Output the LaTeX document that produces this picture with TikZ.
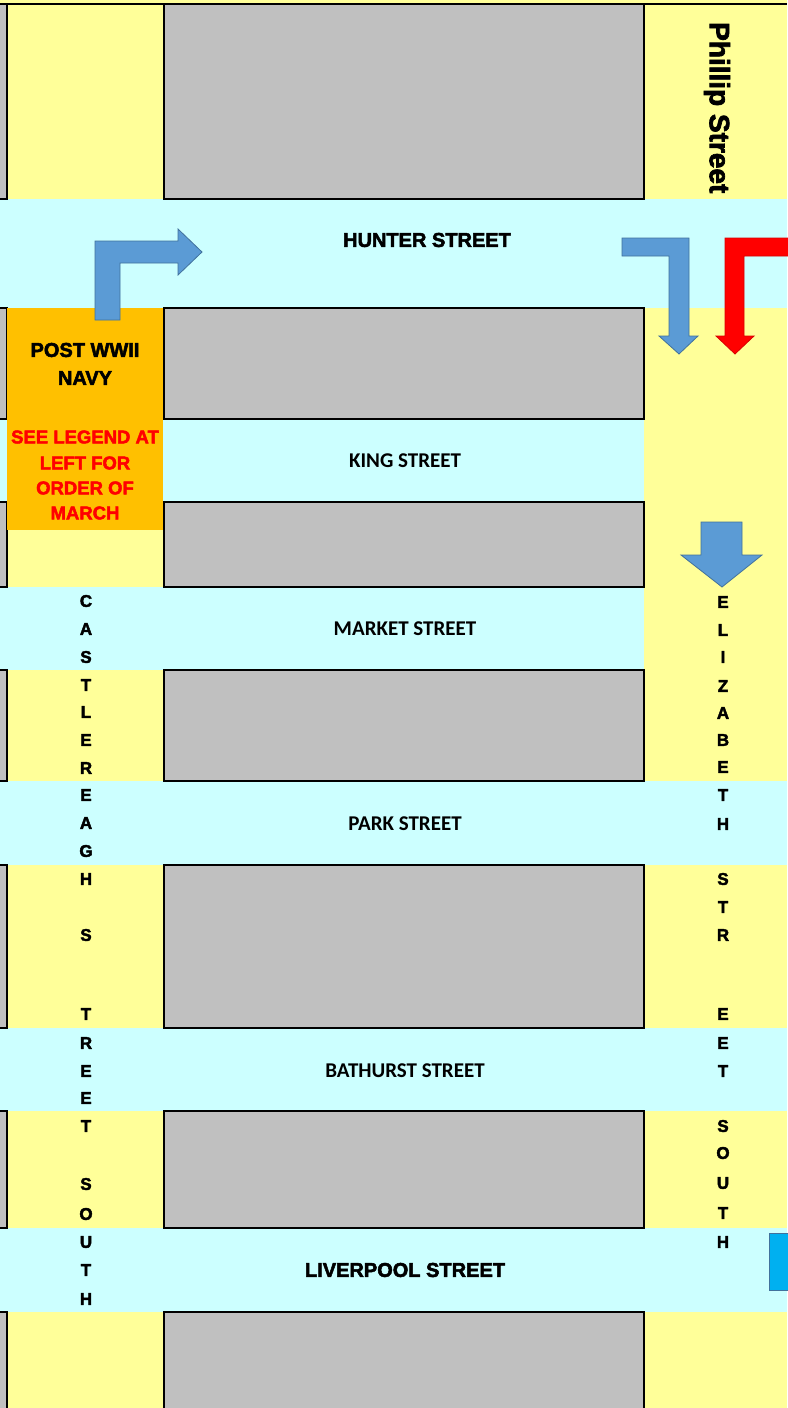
\documentclass[tikz,border=0pt]{standalone}
\usepackage{fontspec}
\setmainfont{Liberation Sans}
\newfontfamily\heavyfont{Liberation Sans Bold}[FakeBold=2.5]
\newfontfamily\calfont{Carlito}
\definecolor{roadcyan}{HTML}{CCFFFF}
\definecolor{lane}{HTML}{FFFF99}
\definecolor{blockgray}{HTML}{C0C0C0}
\definecolor{navyorange}{HTML}{FFC000}
\definecolor{arrowblue}{HTML}{5B9BD5}
\definecolor{arrowedge}{HTML}{41719C}
\definecolor{markerblue}{HTML}{00B0F0}
\begin{document}
\begin{tikzpicture}[x=1pt,y=-1pt,
  block/.style={fill=blockgray,draw=black,line width=2pt},
  road/.style={fill=roadcyan},
  bigname/.style={font=\heavyfont\fontsize{20}{24}\selectfont,inner sep=0},
  smallname/.style={font=\calfont\bfseries\fontsize{21}{25}\selectfont,inner sep=0},
  legend/.style={font=\heavyfont\fontsize{18.5}{22}\selectfont,text=red,inner sep=0},
  letter/.style={font=\heavyfont\fontsize{17}{20}\selectfont,inner sep=0},
  turn/.style={fill=arrowblue,draw=arrowedge,line width=0.8pt}]
\useasboundingbox (0,0) rectangle (787,1408);
\fill[lane] (0,0) rectangle (787,1408);
\fill[road] (0,199) rectangle (787,308);
\fill[road] (0,419) rectangle (644,502);
\fill[road] (0,587) rectangle (644,670);
\fill[road] (0,781) rectangle (787,865);
\fill[road] (0,1028) rectangle (787,1111);
\fill[road] (0,1228) rectangle (787,1312);
\foreach \ya/\yb in {4/199,308/419,502/587,670/781,865/1028,1111/1228,1312/1420}{
  \filldraw[block] (-5,\ya) rectangle (7,\yb);
  \filldraw[block] (164,\ya) rectangle (644,\yb);
}
\draw[line width=2pt] (0,4) -- (787,4);
\fill[navyorange] (7,308) rectangle (163,530);
\node[font=\heavyfont\fontsize{28}{30}\selectfont,inner sep=0,rotate=-90,anchor=west] (phillip) at (717,22) {Phillip Street};
\node[bigname] (hunter) at (427,240) {HUNTER STREET};
\node[smallname] (king) at (405,461) {KING STREET};
\node[smallname] (market) at (405,629) {MARKET STREET};
\node[smallname] (park) at (405,824) {PARK STREET};
\node[smallname] (bathurst) at (405,1071) {BATHURST STREET};
\node[bigname] (liverpool) at (405,1270) {LIVERPOOL STREET};
\node[bigname] (post) at (85,350) {POST WWII};
\node[bigname] (navy) at (85,378) {NAVY};
\node[legend] (see) at (85,437) {SEE LEGEND AT};
\node[legend] (left) at (85,463) {LEFT FOR};
\node[legend] (order) at (85,488) {ORDER OF};
\node[legend] (march) at (85,513) {MARCH};
\foreach \c/\y in {C/601,A/629,S/657,T/685,L/712,E/740,R/768,E/795,A/823,G/851,H/879,S/935,T/1014,R/1043,E/1071,E/1098,T/1126,S/1184,O/1214,U/1242,T/1270,H/1299}
  \node[letter] at (86,\y) {\c};
\foreach \c/\y in {E/602,L/630,I/657,Z/686,A/713,B/740,E/767,T/795,H/824,S/879,T/907,R/935,E/1014,E/1043,T/1071,S/1126,O/1153,U/1183,T/1213,H/1242}
  \node[letter] at (723,\y) {\c};
\filldraw[turn] (95,320) -- (95,241) -- (178,241) -- (178,229) -- (202,252) -- (178,275) -- (178,263) -- (120,263) -- (120,320) -- cycle;
\filldraw[turn] (622,238) -- (689,238) -- (689,336) -- (698,336) -- (679,354) -- (659,336) -- (669,336) -- (669,256) -- (622,256) -- cycle;
\filldraw[fill=red,draw=red!85!black,line width=0.8pt] (792,238) -- (725,238) -- (725,336) -- (716,336) -- (735,354) -- (754,336) -- (744,336) -- (744,256) -- (792,256) -- cycle;
\filldraw[turn] (701,522) -- (742,522) -- (742,555) -- (762,555) -- (722,587) -- (681,555) -- (701,555) -- cycle;
\filldraw[fill=markerblue,draw=arrowedge,line width=0.8pt] (769,1233) rectangle (792,1290);
\end{tikzpicture}
\end{document}
